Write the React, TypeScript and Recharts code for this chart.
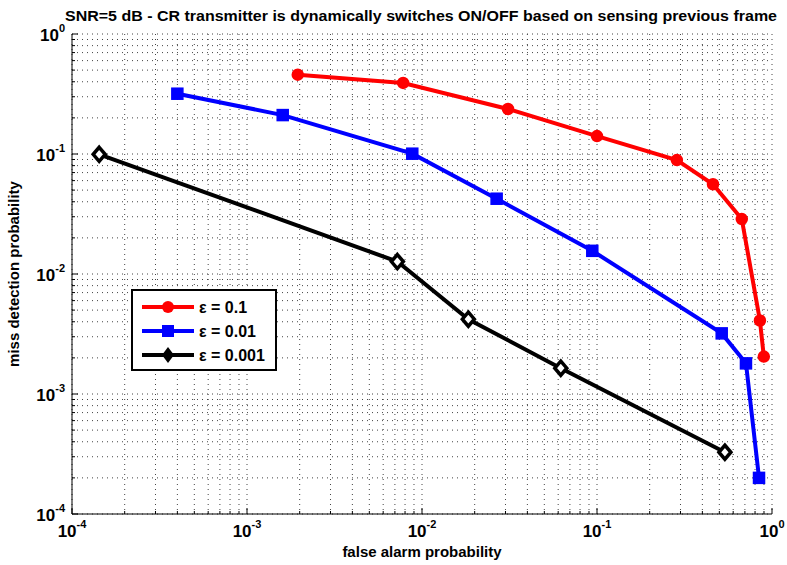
import React from 'react';
import { LineChart, Line, XAxis, YAxis, CartesianGrid } from 'recharts';

// ROC-style curves: false alarm vs. miss detection, one series per epsilon
const redFa = [0.00195, 0.0078, 0.031, 0.1, 0.286, 0.46, 0.672, 0.853, 0.898];
const redMd = [0.458, 0.391, 0.237, 0.141, 0.089, 0.056, 0.0287, 0.0041, 0.00205];

const blueFa = [0.0004, 0.0016, 0.0088, 0.0267, 0.094, 0.516, 0.71, 0.843];
const blueMd = [0.318, 0.211, 0.1006, 0.0424, 0.0156, 0.0032, 0.0018, 0.0002];

const blackFa = [0.000143, 0.00723, 0.0184, 0.0621, 0.538];
const blackMd = [0.0994, 0.0127, 0.0042, 0.00164, 0.000327];

const seriesNames = ['ε = 0.1', 'ε = 0.01', 'ε = 0.001'];
const decades = [1e-4, 1e-3, 1e-2, 1e-1, 1];

// major + minor log ticks (2..9 per decade) so the grid gets both
const logTicks: number[] = [];
decades.forEach((d, i) => {
  logTicks.push(d);
  if (i < decades.length - 1) {
    for (let m = 2; m <= 9; m++) logTicks.push(+(m * d).toPrecision(3));
  }
});

const zip = (xs: number[], ys: number[]) => xs.map((x, i) => ({ x, y: ys[i] }));
const redData = zip(redFa, redMd);
const blueData = zip(blueFa, blueMd);
const blackData = zip(blackFa, blackMd);

const FONT = '"Liberation Sans", Arial, Helvetica, sans-serif';

const isDecade = (v: number) => {
  const l = Math.log10(v);
  return Math.abs(l - Math.round(l)) < 1e-6;
};
const expOf = (v: number) => Math.round(Math.log10(v));

const BottomTick = (props: any) => {
  const { x, y, payload } = props;
  const major = isDecade(payload.value);
  return (
    <g>
      <line x1={x} x2={x} y1={y} y2={y - (major ? 6 : 3)} stroke="#000" strokeWidth={1} />
      {major && (
        <text x={x} y={y + 23} textAnchor="middle" fontFamily={FONT} fontWeight="bold" fontSize={17} fill="#000">
          10
          <tspan dy={-9} fontSize={11}>{expOf(payload.value)}</tspan>
        </text>
      )}
    </g>
  );
};

const LeftTick = (props: any) => {
  const { x, y, payload } = props;
  const major = isDecade(payload.value);
  return (
    <g>
      <line x1={x} x2={x + (major ? 6 : 3)} y1={y} y2={y} stroke="#000" strokeWidth={1} />
      {major && (
        <text x={x - 7} y={y + 7} textAnchor="end" fontFamily={FONT} fontWeight="bold" fontSize={17} fill="#000">
          10
          <tspan dy={-9} fontSize={11}>{expOf(payload.value)}</tspan>
        </text>
      )}
    </g>
  );
};

const TopTick = (props: any) => {
  const { x, y, payload } = props;
  const major = isDecade(payload.value);
  return <line x1={x} x2={x} y1={y} y2={y + (major ? 6 : 3)} stroke="#000" strokeWidth={1} />;
};

const RightTick = (props: any) => {
  const { x, y, payload } = props;
  const major = isDecade(payload.value);
  return <line x1={x} x2={x - (major ? 6 : 3)} y1={y} y2={y} stroke="#000" strokeWidth={1} />;
};

const CircleDot = (props: any) => {
  const { cx, cy, index } = props;
  if (cx == null || cy == null) return <g key={`c${index}`} />;
  return <circle key={`c${index}`} cx={cx} cy={cy} r={5} fill="#ff0000" stroke="#ff0000" strokeWidth={2.5} />;
};

const SquareDot = (props: any) => {
  const { cx, cy, index } = props;
  if (cx == null || cy == null) return <g key={`s${index}`} />;
  return <rect key={`s${index}`} x={cx - 5.5} y={cy - 5.5} width={11} height={11} fill="#0000ff" stroke="#0000ff" strokeWidth={1.5} />;
};

const DiamondDot = (props: any) => {
  const { cx, cy, index } = props;
  if (cx == null || cy == null) return <g key={`d${index}`} />;
  const h = 7;
  return (
    <polygon
      key={`d${index}`}
      points={`${cx},${cy - h} ${cx + h - 1},${cy} ${cx},${cy + h} ${cx - h + 1},${cy}`}
      fill="#ffffff"
      stroke="#000"
      strokeWidth={3.5}
    />
  );
};

const legendItems = [
  { name: seriesNames[0], color: '#ff0000', marker: 'circle' },
  { name: seriesNames[1], color: '#0000ff', marker: 'square' },
  { name: seriesNames[2], color: '#000000', marker: 'diamond' },
];

const LegendBox = () => (
  <svg width={146} height={82} style={{ position: 'absolute', left: 131, top: 289 }}>
    <rect x={1} y={1} width={144} height={80} fill="#fff" stroke="#000" strokeWidth={2} />
    {legendItems.map((it, i) => {
      const cy = 18 + i * 24;
      return (
        <g key={it.name}>
          <line x1={11} x2={63} y1={cy} y2={cy} stroke={it.color} strokeWidth={4} />
          {it.marker === 'circle' && <circle cx={37} cy={cy} r={6} fill={it.color} />}
          {it.marker === 'square' && <rect x={31} y={cy - 6} width={12} height={12} fill={it.color} />}
          {it.marker === 'diamond' && (
            <polygon points={`37,${cy - 8} 43,${cy} 37,${cy + 8} 31,${cy}`} fill={it.color} />
          )}
          <text x={68} y={cy + 6} fontFamily={FONT} fontWeight="bold" fontSize={16} fill="#000">
            {it.name}
          </text>
        </g>
      );
    })}
  </svg>
);

export default function App() {
  return (
    <div style={{ position: 'relative', width: 787, height: 565, background: '#fff' }}>
      <style>{`body{margin:0;background:#fff}`}</style>
      <LineChart width={787} height={565} margin={{ top: 34, right: 15, bottom: 0, left: 0 }}>
        <CartesianGrid stroke="#444" strokeDasharray="1 4" strokeWidth={1} />
        <XAxis
          dataKey="x"
          type="number"
          scale="log"
          domain={[1e-4, 1]}
          allowDataOverflow
          ticks={logTicks}
          interval={0}
          tickSize={0}
          tickMargin={0}
          tick={<BottomTick />}
          height={51}
          stroke="#000"
          label={{
            value: 'false alarm probability',
            position: 'insideBottom',
            offset: 8,
            fill: '#000',
            fontFamily: FONT,
            fontWeight: 'bold',
            fontSize: 15,
          }}
        />
        <XAxis
          xAxisId="top"
          orientation="top"
          type="number"
          scale="log"
          domain={[1e-4, 1]}
          allowDataOverflow
          ticks={logTicks}
          interval={0}
          tickSize={0}
          tickMargin={0}
          tick={<TopTick />}
          height={0}
          stroke="#000"
        />
        <YAxis
          type="number"
          scale="log"
          domain={[1e-4, 1]}
          allowDataOverflow
          ticks={logTicks}
          interval={0}
          tickSize={0}
          tickMargin={0}
          tick={<LeftTick />}
          width={72}
          stroke="#000"
          label={{
            value: 'miss detection probability',
            angle: -90,
            position: 'insideLeft',
            offset: 14,
            fill: '#000',
            fontFamily: FONT,
            fontWeight: 'bold',
            fontSize: 15,
            style: { textAnchor: 'middle' },
          }}
        />
        <YAxis
          yAxisId="right"
          orientation="right"
          type="number"
          scale="log"
          domain={[1e-4, 1]}
          allowDataOverflow
          ticks={logTicks}
          interval={0}
          tickSize={0}
          tickMargin={0}
          tick={<RightTick />}
          width={0}
          stroke="#000"
        />
        <Line data={redData} dataKey="y" name={seriesNames[0]} stroke="#ff0000" strokeWidth={4} dot={CircleDot} activeDot={false} isAnimationActive={false} />
        <Line data={blueData} dataKey="y" name={seriesNames[1]} stroke="#0000ff" strokeWidth={4} dot={SquareDot} activeDot={false} isAnimationActive={false} />
        <Line data={blackData} dataKey="y" name={seriesNames[2]} stroke="#000000" strokeWidth={4} dot={DiamondDot} activeDot={false} isAnimationActive={false} />
      </LineChart>
      <svg width={787} height={30} style={{ position: 'absolute', left: 0, top: 0 }}>
        <text x={421} y={21} textAnchor="middle" fontFamily={FONT} fontWeight="bold" fontSize={15} fill="#000" textLength={712} lengthAdjust="spacingAndGlyphs">
          SNR=5 dB - CR transmitter is dynamically switches ON/OFF based on sensing previous frame
        </text>
      </svg>
      <LegendBox />
    </div>
  );
}
